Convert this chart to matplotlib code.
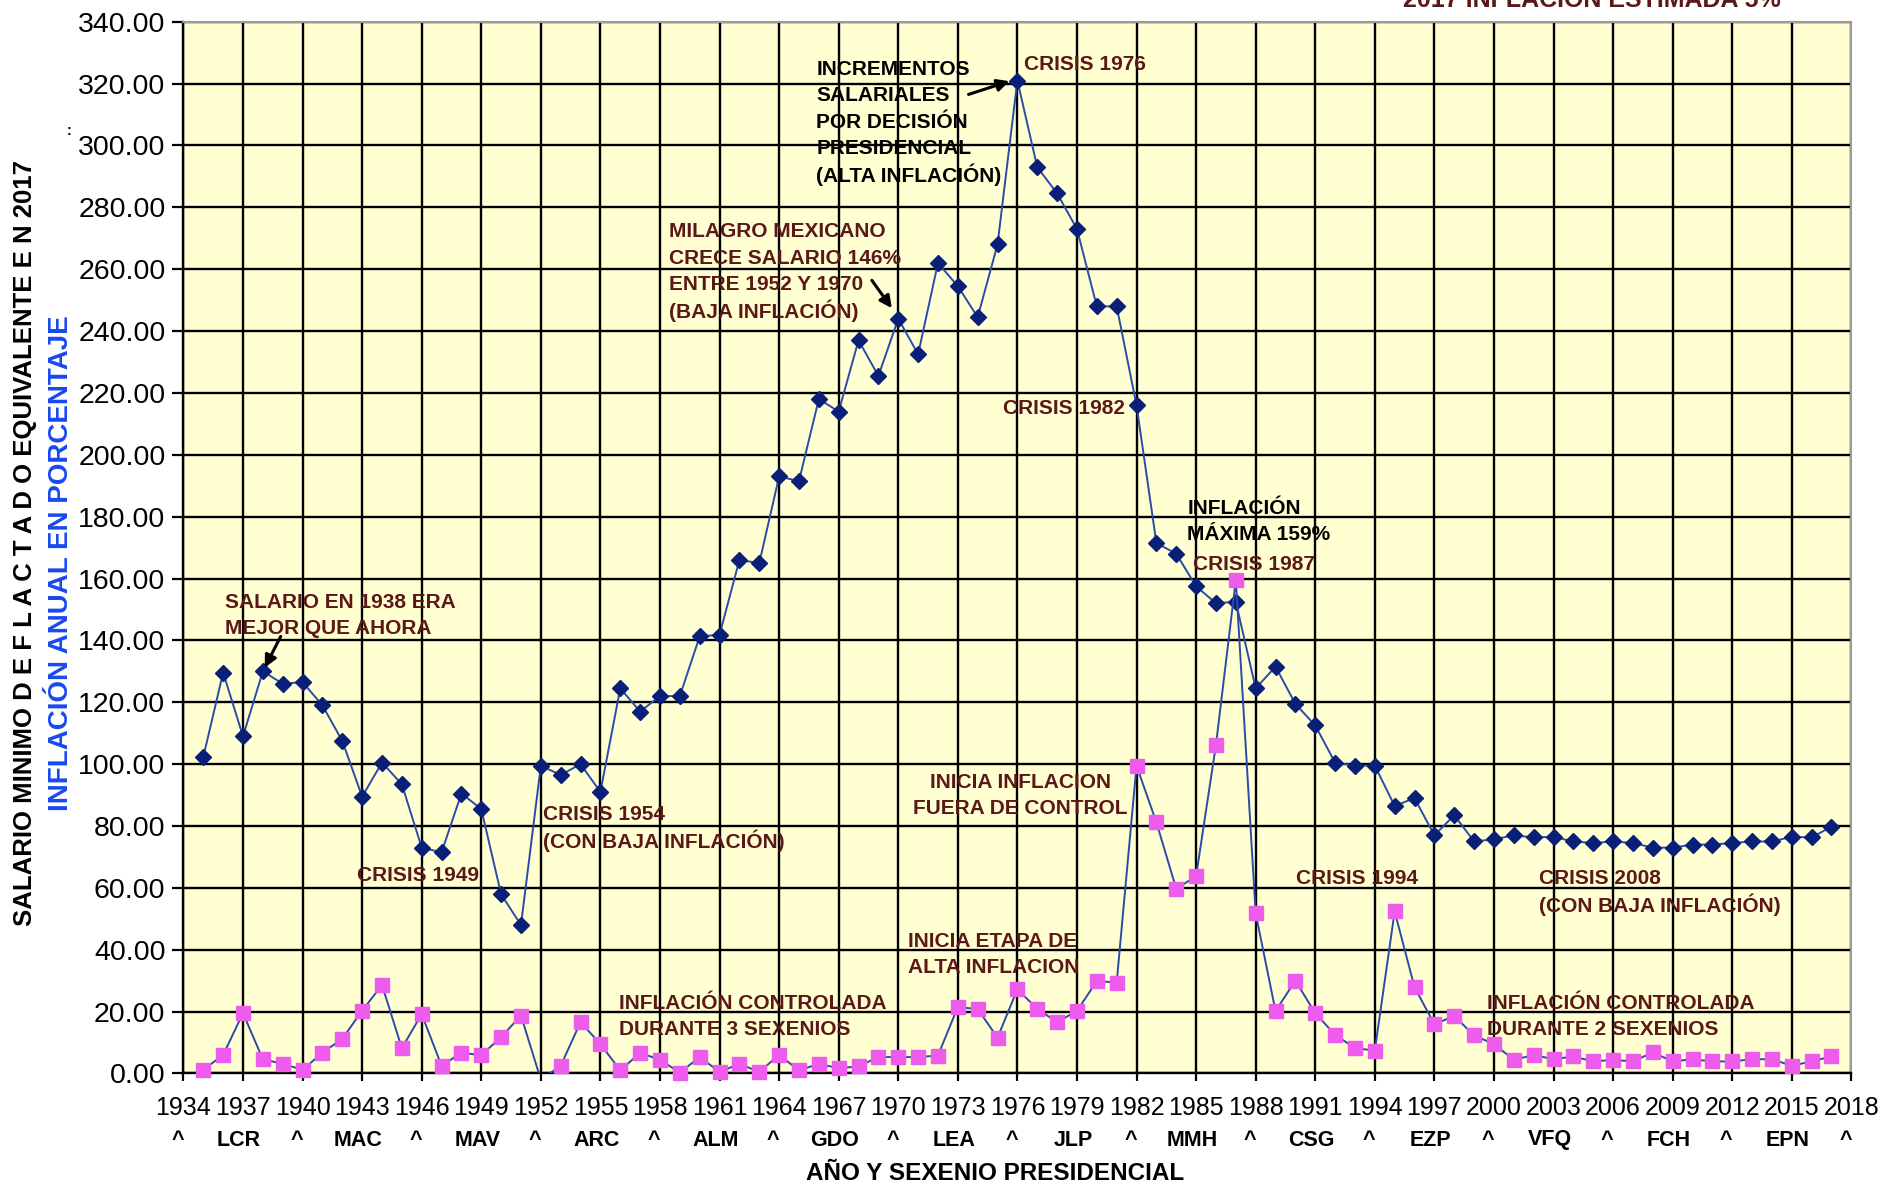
import matplotlib
matplotlib.use('Agg')
import matplotlib.pyplot as plt
import matplotlib.transforms as mtransforms
from matplotlib import font_manager as fm
import numpy as np

# Datos: salario minimo deflactado (pesos 2017) e inflacion anual (%)
anios = list(range(1935, 2018))
salario = [102.3, 129.6, 109.0, 130.0, 126.0, 126.5, 119.0, 107.5, 89.5, 100.5,
           93.5, 73.0, 71.5, 90.5, 85.5, 57.9, 48.0, 99.5, 96.5, 100.0,
           91.0, 124.5, 117.0, 122.0, 122.0, 141.3, 141.8, 166.0, 165.0, 193.0,
           191.5, 218.0, 214.0, 237.0, 225.5, 244.0, 232.5, 262.0, 254.5, 244.5,
           268.0, 321.0, 293.0, 284.5, 273.0, 248.0, 248.0, 216.0, 171.5, 168.0,
           157.5, 152.0, 152.5, 124.5, 131.5, 119.5, 112.5, 100.5, 99.5, 99.5,
           86.5, 89.0, 77.0, 83.5, 75.0, 75.7, 77.0, 76.3, 76.5, 75.0,
           74.5, 75.0, 74.5, 73.0, 73.0, 74.0, 74.0, 74.5, 75.0, 75.0,
           76.5, 76.3, 79.8]
inflacion = [1.2, 6.0, 19.5, 4.6, 3.1, 1.2, 6.7, 11.2, 20.3, 28.6,
             8.2, 19.2, 2.5, 6.7, 5.9, 11.8, 18.7, -2.0, 2.5, 16.6,
             9.5, 1.0, 6.7, 4.4, 0.3, 5.3, 0.5, 3.1, 0.5, 6.0,
             1.0, 3.1, 1.7, 2.3, 5.3, 5.3, 5.3, 5.8, 21.5, 20.8,
             11.6, 27.2, 20.9, 16.6, 20.2, 29.9, 29.4, 99.5, 81.2, 59.7,
             63.8, 106.2, 159.5, 51.8, 20.2, 30.0, 19.5, 12.5, 8.2, 7.4,
             52.4, 27.9, 15.9, 18.6, 12.3, 9.5, 4.4, 6.0, 4.6, 5.5,
             3.9, 4.4, 3.9, 6.8, 3.9, 4.6, 3.9, 3.9, 4.6, 4.6,
             2.5, 3.9, 5.5]
sexenios = ['LCR', 'MAC', 'MAV', 'ARC', 'ALM', 'GDO', 'LEA', 'JLP',
            'MMH', 'CSG', 'EZP', 'VFQ', 'FCH', 'EPN']
inicio_sexenios = list(range(1934, 2019, 6))

# fuente estrecha (tipo Arial Narrow) si existe
try:
    fm.findfont(fm.FontProperties(family='Liberation Sans Narrow', weight='bold'),
                fallback_to_default=False)
    NARROW, fs_ann, fs_xl = 'Liberation Sans Narrow', 18.5, 20.5
except ValueError:
    NARROW, fs_ann, fs_xl = 'Liberation Sans', 15, 17.5

plt.rcParams['font.family'] = ['Liberation Sans', 'DejaVu Sans']

GRANATE = '#5B1818'
AZUL_LINEA = '#2A4BA8'
AZUL_PUNTO = '#0A1F78'
ROSA = '#EE5CEE'

fig = plt.figure(figsize=(18.93, 11.88), dpi=100)
ax = fig.add_axes([0.0969, 0.0964, 0.8811, 0.8853])
ax.set_facecolor('#FFFFD2')

# series
ax.plot(anios, salario, color=AZUL_LINEA, lw=1.4, marker='D', ms=8,
        mfc=AZUL_PUNTO, mec=AZUL_PUNTO, zorder=3)
ax.plot(anios, inflacion, color=AZUL_LINEA, lw=1.4, zorder=3)
infl = np.array(inflacion)
x_arr = np.array(anios)
ax.plot(x_arr[infl >= 0], infl[infl >= 0], ls='none', marker='s', ms=10,
        mfc=ROSA, mec=ROSA, clip_on=False, zorder=4)

# ejes
ax.set_xlim(1934, 2018)
ax.set_ylim(0, 340)
ax.set_xticks(range(1934, 2019, 3))
ax.set_yticks(range(0, 341, 20))
ax.set_yticklabels(['%.2f' % v for v in range(0, 341, 20)])
ax.grid(True, color='black', lw=1.7)
ax.set_axisbelow(True)
ax.tick_params(axis='y', direction='out', length=8, width=1.6, pad=5, labelsize=20.5)
ax.tick_params(axis='x', direction='out', length=6, width=1.6, pad=10, labelsize=18)
for s in ['left', 'bottom']:
    ax.spines[s].set_color('black')
    ax.spines[s].set_linewidth(1.7)
for s in ['top', 'right']:
    ax.spines[s].set_color('#9A9A9A')
    ax.spines[s].set_linewidth(1.5)

# segunda fila de etiquetas: sexenios
trans = mtransforms.blended_transform_factory(ax.transData, fig.transFigure)
for a in inicio_sexenios:
    ax.text(a - 0.3, 1 - 1140 / 1188, '^', transform=trans, ha='center', va='center',
            fontsize=15.5, fontweight='bold')
for a, s in zip(inicio_sexenios, sexenios):
    ax.text(a + 2.8, 1 - 1140 / 1188, s, transform=trans, ha='center', va='center',
            fontsize=15.5, fontweight='bold')

fig.text(995 / 1893, 1 - 1174 / 1188, 'AÑO Y SEXENIO PRESIDENCIAL', ha='center', va='center',
         fontsize=fs_xl, fontweight='bold', family=[NARROW, 'DejaVu Sans'])

# titulos del eje y
fig.text(25 / 1893, 1 - 543 / 1188,
         'SALARIO MINIMO D E F L A C T A D O EQUIVALENTE E N 2017',
         rotation=90, ha='center', va='center', fontsize=18.5, fontweight='bold')
fig.text(61 / 1893, 1 - 563 / 1188, 'INFLACIÓN ANUAL EN PORCENTAJE',
         rotation=90, ha='center', va='center', fontsize=20, fontweight='bold',
         color='#1848F0')
fig.text(69 / 1893, 1 - 131 / 1188, ':', ha='center', va='center', fontsize=10,
         fontweight='bold')

# anotaciones (cada renglon por separado para un interlineado uniforme)
notas = [
    ('SALARIO EN 1938 ERA\nMEJOR QUE AHORA', 1936.07, 148.7, GRANATE, 'left'),
    ('CRISIS 1949', 1942.76, 64.8, GRANATE, 'left'),
    ('CRISIS 1954\n(CON BAJA INFLACIÓN)', 1952.13, 80.0, GRANATE, 'left'),
    ('INFLACIÓN CONTROLADA\nDURANTE 3 SEXENIOS', 1955.96, 19.1, GRANATE, 'left'),
    ('MILAGRO MEXICANO\nCRECE SALARIO 146%\nENTRE 1952 Y 1970\n(BAJA INFLACIÓN)',
     1958.45, 260.0, GRANATE, 'left'),
    ('INCREMENTOS\nSALARIALES\nPOR DECISIÓN\nPRESIDENCIAL\n(ALTA INFLACIÓN)',
     1965.87, 308.2, 'black', 'left'),
    ('CRISIS 1976', 1976.34, 326.7, GRANATE, 'left'),
    ('CRISIS 1982', 1975.3, 215.5, GRANATE, 'left'),
    ('INFLACIÓN\nMÁXIMA 159%', 1984.55, 179.2, 'black', 'left'),
    ('CRISIS 1987', 1984.85, 165.1, GRANATE, 'left'),
    ('INICIA INFLACION\nFUERA DE CONTROL', 1976.15, 90.6, GRANATE, 'center'),
    ('INICIA ETAPA DE\nALTA INFLACION', 1970.5, 39.0, GRANATE, 'left'),
    ('CRISIS 1994', 1990.02, 63.6, GRANATE, 'left'),
    ('CRISIS 2008\n(CON BAJA INFLACIÓN)', 2002.25, 59.3, GRANATE, 'left'),
    ('INFLACIÓN CONTROLADA\nDURANTE 2 SEXENIOS', 1999.63, 19.1, GRANATE, 'left'),
]
paso = 8.5  # separacion entre renglones, en unidades del eje y
for txt, x, y, c, ha in notas:
    lineas = txt.split('\n')
    n = len(lineas)
    for i, lin in enumerate(lineas):
        yl = y + (n - 1) / 2 * paso - i * paso
        ax.text(x, yl, lin, color=c, ha=ha, va='center_baseline',
                fontsize=fs_ann, fontweight='bold',
                family=[NARROW, 'DejaVu Sans'], zorder=5)

fig.text(1403 / 1893, 1.0, '2017 INFLACIÓN ESTIMADA 5%', color=GRANATE,
         ha='left', va='center', fontsize=fs_ann * 1.2, fontweight='bold',
         family=[NARROW, 'DejaVu Sans'])

# flechas
flecha = dict(arrowstyle='-|>', color='black', lw=2.2, mutation_scale=18,
              shrinkA=0, shrinkB=3)
ax.annotate('', xy=(1938, 130), xytext=(1938.9, 141.3), arrowprops=flecha, zorder=5)
ax.annotate('', xy=(1969.8, 246.3), xytext=(1968.67, 256.4), arrowprops=flecha, zorder=5)
ax.annotate('', xy=(1975.8, 321.2), xytext=(1973.54, 316.5), arrowprops=flecha, zorder=5)

fig.savefig('out.png', dpi=100)
